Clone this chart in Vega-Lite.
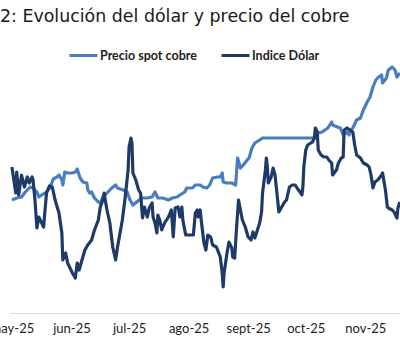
{
"$schema":"https://vega.github.io/schema/vega-lite/v6.json",
"width":390,"height":248,"autosize":"none","padding":{"left":10,"top":65,"right":0,"bottom":38},
"background":"white",
"title":{"text":"2: Evolución del dólar y precio del cobre","anchor":"start","frame":"group","font":"DejaVu Sans","fontSize":17.4,"fontWeight":"normal","color":"#1a1a1a","dx":-10,"dy":-15,"offset":0},
"data":{"values":[
{"serie":"Indice Dólar","fecha":"2025-05-01T00:00","valor":99.68},
{"serie":"Indice Dólar","fecha":"2025-05-03T00:00","valor":98.90},
{"serie":"Indice Dólar","fecha":"2025-05-03T12:00","valor":99.53},
{"serie":"Indice Dólar","fecha":"2025-05-04T12:00","valor":98.84},
{"serie":"Indice Dólar","fecha":"2025-05-06T00:00","valor":99.44},
{"serie":"Indice Dólar","fecha":"2025-05-07T12:00","valor":99.08},
{"serie":"Indice Dólar","fecha":"2025-05-09T00:00","valor":99.38},
{"serie":"Indice Dólar","fecha":"2025-05-10T00:00","valor":99.20},
{"serie":"Indice Dólar","fecha":"2025-05-11T12:00","valor":99.38},
{"serie":"Indice Dólar","fecha":"2025-05-12T00:00","valor":99.29},
{"serie":"Indice Dólar","fecha":"2025-05-13T00:00","valor":98.69},
{"serie":"Indice Dólar","fecha":"2025-05-14T00:00","valor":97.85},
{"serie":"Indice Dólar","fecha":"2025-05-15T00:00","valor":98.18},
{"serie":"Indice Dólar","fecha":"2025-05-16T12:00","valor":98.00},
{"serie":"Indice Dólar","fecha":"2025-05-17T12:00","valor":97.88},
{"serie":"Indice Dólar","fecha":"2025-05-19T00:00","valor":98.90},
{"serie":"Indice Dólar","fecha":"2025-05-20T12:00","valor":99.11},
{"serie":"Indice Dólar","fecha":"2025-05-22T00:00","valor":99.08},
{"serie":"Indice Dólar","fecha":"2025-05-23T12:00","valor":98.69},
{"serie":"Indice Dólar","fecha":"2025-05-25T12:00","valor":98.30},
{"serie":"Indice Dólar","fecha":"2025-05-27T00:00","valor":97.70},
{"serie":"Indice Dólar","fecha":"2025-05-27T12:00","valor":96.89},
{"serie":"Indice Dólar","fecha":"2025-05-29T00:00","valor":97.10},
{"serie":"Indice Dólar","fecha":"2025-05-30T00:00","valor":96.80},
{"serie":"Indice Dólar","fecha":"2025-06-01T12:00","valor":96.50},
{"serie":"Indice Dólar","fecha":"2025-06-03T00:00","valor":96.35},
{"serie":"Indice Dólar","fecha":"2025-06-04T00:00","valor":96.80},
{"serie":"Indice Dólar","fecha":"2025-06-05T00:00","valor":96.59},
{"serie":"Indice Dólar","fecha":"2025-06-06T12:00","valor":96.89},
{"serie":"Indice Dólar","fecha":"2025-06-08T00:00","valor":97.19},
{"serie":"Indice Dólar","fecha":"2025-06-09T12:00","valor":97.34},
{"serie":"Indice Dólar","fecha":"2025-06-11T12:00","valor":97.49},
{"serie":"Indice Dólar","fecha":"2025-06-13T00:00","valor":97.79},
{"serie":"Indice Dólar","fecha":"2025-06-15T00:00","valor":98.09},
{"serie":"Indice Dólar","fecha":"2025-06-16T00:00","valor":98.48},
{"serie":"Indice Dólar","fecha":"2025-06-17T00:00","valor":98.63},
{"serie":"Indice Dólar","fecha":"2025-06-18T00:00","valor":98.90},
{"serie":"Indice Dólar","fecha":"2025-06-19T12:00","valor":98.39},
{"serie":"Indice Dólar","fecha":"2025-06-21T00:00","valor":98.00},
{"serie":"Indice Dólar","fecha":"2025-06-22T12:00","valor":97.28},
{"serie":"Indice Dólar","fecha":"2025-06-24T00:00","valor":96.89},
{"serie":"Indice Dólar","fecha":"2025-06-25T00:00","valor":97.28},
{"serie":"Indice Dólar","fecha":"2025-06-27T12:00","valor":98.09},
{"serie":"Indice Dólar","fecha":"2025-06-29T00:00","valor":98.78},
{"serie":"Indice Dólar","fecha":"2025-06-30T12:00","valor":99.59},
{"serie":"Indice Dólar","fecha":"2025-07-01T00:00","valor":100.28},
{"serie":"Indice Dólar","fecha":"2025-07-02T00:00","valor":100.55},
{"serie":"Indice Dólar","fecha":"2025-07-02T12:00","valor":100.40},
{"serie":"Indice Dólar","fecha":"2025-07-03T00:00","valor":99.50},
{"serie":"Indice Dólar","fecha":"2025-07-04T12:00","valor":99.29},
{"serie":"Indice Dólar","fecha":"2025-07-06T00:00","valor":98.99},
{"serie":"Indice Dólar","fecha":"2025-07-07T00:00","valor":98.90},
{"serie":"Indice Dólar","fecha":"2025-07-08T00:00","valor":98.15},
{"serie":"Indice Dólar","fecha":"2025-07-09T00:00","valor":98.48},
{"serie":"Indice Dólar","fecha":"2025-07-10T12:00","valor":98.18},
{"serie":"Indice Dólar","fecha":"2025-07-11T12:00","valor":98.45},
{"serie":"Indice Dólar","fecha":"2025-07-13T00:00","valor":98.60},
{"serie":"Indice Dólar","fecha":"2025-07-13T12:00","valor":98.18},
{"serie":"Indice Dólar","fecha":"2025-07-14T12:00","valor":98.00},
{"serie":"Indice Dólar","fecha":"2025-07-15T12:00","valor":97.70},
{"serie":"Indice Dólar","fecha":"2025-07-16T00:00","valor":98.24},
{"serie":"Indice Dólar","fecha":"2025-07-17T00:00","valor":98.09},
{"serie":"Indice Dólar","fecha":"2025-07-18T00:00","valor":97.79},
{"serie":"Indice Dólar","fecha":"2025-07-19T12:00","valor":98.00},
{"serie":"Indice Dólar","fecha":"2025-07-21T12:00","valor":98.18},
{"serie":"Indice Dólar","fecha":"2025-07-23T00:00","valor":98.39},
{"serie":"Indice Dólar","fecha":"2025-07-24T00:00","valor":97.58},
{"serie":"Indice Dólar","fecha":"2025-07-25T00:00","valor":98.45},
{"serie":"Indice Dólar","fecha":"2025-07-26T12:00","valor":98.48},
{"serie":"Indice Dólar","fecha":"2025-07-27T12:00","valor":98.18},
{"serie":"Indice Dólar","fecha":"2025-07-28T12:00","valor":98.48},
{"serie":"Indice Dólar","fecha":"2025-07-29T00:00","valor":98.09},
{"serie":"Indice Dólar","fecha":"2025-07-30T12:00","valor":97.64},
{"serie":"Indice Dólar","fecha":"2025-08-01T00:00","valor":97.64},
{"serie":"Indice Dólar","fecha":"2025-08-03T12:00","valor":97.64},
{"serie":"Indice Dólar","fecha":"2025-08-04T12:00","valor":98.30},
{"serie":"Indice Dólar","fecha":"2025-08-05T12:00","valor":98.39},
{"serie":"Indice Dólar","fecha":"2025-08-06T00:00","valor":98.18},
{"serie":"Indice Dólar","fecha":"2025-08-07T00:00","valor":98.39},
{"serie":"Indice Dólar","fecha":"2025-08-08T00:00","valor":97.88},
{"serie":"Indice Dólar","fecha":"2025-08-09T00:00","valor":97.40},
{"serie":"Indice Dólar","fecha":"2025-08-10T00:00","valor":97.19},
{"serie":"Indice Dólar","fecha":"2025-08-11T00:00","valor":97.64},
{"serie":"Indice Dólar","fecha":"2025-08-12T12:00","valor":97.58},
{"serie":"Indice Dólar","fecha":"2025-08-13T12:00","valor":97.34},
{"serie":"Indice Dólar","fecha":"2025-08-15T12:00","valor":97.28},
{"serie":"Indice Dólar","fecha":"2025-08-16T12:00","valor":97.13},
{"serie":"Indice Dólar","fecha":"2025-08-17T12:00","valor":96.98},
{"serie":"Indice Dólar","fecha":"2025-08-18T12:00","valor":96.50},
{"serie":"Indice Dólar","fecha":"2025-08-19T00:00","valor":96.08},
{"serie":"Indice Dólar","fecha":"2025-08-19T12:00","valor":96.50},
{"serie":"Indice Dólar","fecha":"2025-08-21T00:00","valor":97.10},
{"serie":"Indice Dólar","fecha":"2025-08-22T00:00","valor":97.43},
{"serie":"Indice Dólar","fecha":"2025-08-23T12:00","valor":97.25},
{"serie":"Indice Dólar","fecha":"2025-08-24T00:00","valor":96.98},
{"serie":"Indice Dólar","fecha":"2025-08-25T00:00","valor":96.95},
{"serie":"Indice Dólar","fecha":"2025-08-26T00:00","valor":97.88},
{"serie":"Indice Dólar","fecha":"2025-08-27T00:00","valor":98.69},
{"serie":"Indice Dólar","fecha":"2025-08-29T00:00","valor":98.09},
{"serie":"Indice Dólar","fecha":"2025-08-30T12:00","valor":97.88},
{"serie":"Indice Dólar","fecha":"2025-09-01T00:00","valor":97.58},
{"serie":"Indice Dólar","fecha":"2025-09-02T12:00","valor":97.49},
{"serie":"Indice Dólar","fecha":"2025-09-03T12:00","valor":97.73},
{"serie":"Indice Dólar","fecha":"2025-09-04T12:00","valor":97.55},
{"serie":"Indice Dólar","fecha":"2025-09-05T12:00","valor":97.73},
{"serie":"Indice Dólar","fecha":"2025-09-07T00:00","valor":98.00},
{"serie":"Indice Dólar","fecha":"2025-09-08T00:00","valor":98.33},
{"serie":"Indice Dólar","fecha":"2025-09-08T12:00","valor":98.90},
{"serie":"Indice Dólar","fecha":"2025-09-10T00:00","valor":99.59},
{"serie":"Indice Dólar","fecha":"2025-09-10T12:00","valor":99.95},
{"serie":"Indice Dólar","fecha":"2025-09-11T00:00","valor":99.68},
{"serie":"Indice Dólar","fecha":"2025-09-11T12:00","valor":99.20},
{"serie":"Indice Dólar","fecha":"2025-09-13T00:00","valor":99.38},
{"serie":"Indice Dólar","fecha":"2025-09-14T00:00","valor":99.65},
{"serie":"Indice Dólar","fecha":"2025-09-15T00:00","valor":99.44},
{"serie":"Indice Dólar","fecha":"2025-09-16T00:00","valor":98.90},
{"serie":"Indice Dólar","fecha":"2025-09-17T00:00","valor":98.33},
{"serie":"Indice Dólar","fecha":"2025-09-18T12:00","valor":98.48},
{"serie":"Indice Dólar","fecha":"2025-09-20T00:00","valor":98.63},
{"serie":"Indice Dólar","fecha":"2025-09-21T00:00","valor":98.69},
{"serie":"Indice Dólar","fecha":"2025-09-22T12:00","valor":99.08},
{"serie":"Indice Dólar","fecha":"2025-09-24T00:00","valor":99.14},
{"serie":"Indice Dólar","fecha":"2025-09-25T12:00","valor":99.14},
{"serie":"Indice Dólar","fecha":"2025-09-26T12:00","valor":99.05},
{"serie":"Indice Dólar","fecha":"2025-09-28T00:00","valor":98.93},
{"serie":"Indice Dólar","fecha":"2025-09-29T00:00","valor":98.84},
{"serie":"Indice Dólar","fecha":"2025-09-29T12:00","valor":99.08},
{"serie":"Indice Dólar","fecha":"2025-09-30T00:00","valor":99.68},
{"serie":"Indice Dólar","fecha":"2025-10-01T00:00","valor":100.19},
{"serie":"Indice Dólar","fecha":"2025-10-02T00:00","valor":100.34},
{"serie":"Indice Dólar","fecha":"2025-10-04T12:00","valor":100.43},
{"serie":"Indice Dólar","fecha":"2025-10-05T12:00","valor":100.55},
{"serie":"Indice Dólar","fecha":"2025-10-06T00:00","valor":100.85},
{"serie":"Indice Dólar","fecha":"2025-10-07T00:00","valor":100.73},
{"serie":"Indice Dólar","fecha":"2025-10-07T12:00","valor":100.19},
{"serie":"Indice Dólar","fecha":"2025-10-09T00:00","valor":100.04},
{"serie":"Indice Dólar","fecha":"2025-10-10T12:00","valor":99.98},
{"serie":"Indice Dólar","fecha":"2025-10-12T00:00","valor":99.98},
{"serie":"Indice Dólar","fecha":"2025-10-13T00:00","valor":99.89},
{"serie":"Indice Dólar","fecha":"2025-10-14T12:00","valor":99.80},
{"serie":"Indice Dólar","fecha":"2025-10-15T00:00","valor":99.44},
{"serie":"Indice Dólar","fecha":"2025-10-17T00:00","valor":99.59},
{"serie":"Indice Dólar","fecha":"2025-10-18T00:00","valor":99.80},
{"serie":"Indice Dólar","fecha":"2025-10-19T12:00","valor":99.95},
{"serie":"Indice Dólar","fecha":"2025-10-20T12:00","valor":99.98},
{"serie":"Indice Dólar","fecha":"2025-10-21T00:00","valor":100.79},
{"serie":"Indice Dólar","fecha":"2025-10-22T12:00","valor":100.85},
{"serie":"Indice Dólar","fecha":"2025-10-24T00:00","valor":100.79},
{"serie":"Indice Dólar","fecha":"2025-10-25T12:00","valor":100.73},
{"serie":"Indice Dólar","fecha":"2025-10-26T12:00","valor":100.34},
{"serie":"Indice Dólar","fecha":"2025-10-27T12:00","valor":100.04},
{"serie":"Indice Dólar","fecha":"2025-10-29T12:00","valor":99.95},
{"serie":"Indice Dólar","fecha":"2025-10-31T00:00","valor":99.80},
{"serie":"Indice Dólar","fecha":"2025-11-02T00:00","valor":99.74},
{"serie":"Indice Dólar","fecha":"2025-11-03T00:00","valor":99.68},
{"serie":"Indice Dólar","fecha":"2025-11-04T00:00","valor":99.44},
{"serie":"Indice Dólar","fecha":"2025-11-05T00:00","valor":99.05},
{"serie":"Indice Dólar","fecha":"2025-11-06T00:00","valor":99.23},
{"serie":"Indice Dólar","fecha":"2025-11-07T12:00","valor":99.29},
{"serie":"Indice Dólar","fecha":"2025-11-09T12:00","valor":99.44},
{"serie":"Indice Dólar","fecha":"2025-11-10T00:00","valor":99.50},
{"serie":"Indice Dólar","fecha":"2025-11-11T12:00","valor":98.99},
{"serie":"Indice Dólar","fecha":"2025-11-12T12:00","valor":98.48},
{"serie":"Indice Dólar","fecha":"2025-11-13T00:00","valor":98.45},
{"serie":"Indice Dólar","fecha":"2025-11-15T00:00","valor":98.39},
{"serie":"Indice Dólar","fecha":"2025-11-16T00:00","valor":98.33},
{"serie":"Indice Dólar","fecha":"2025-11-17T12:00","valor":98.15},
{"serie":"Indice Dólar","fecha":"2025-11-18T00:00","valor":98.45},
{"serie":"Indice Dólar","fecha":"2025-11-19T00:00","valor":98.63},
{"serie":"Precio spot cobre","fecha":"2025-05-01T00:00","valor":9215},
{"serie":"Precio spot cobre","fecha":"2025-05-03T12:00","valor":9245},
{"serie":"Precio spot cobre","fecha":"2025-05-06T00:00","valor":9260},
{"serie":"Precio spot cobre","fecha":"2025-05-08T00:00","valor":9335},
{"serie":"Precio spot cobre","fecha":"2025-05-10T12:00","valor":9410},
{"serie":"Precio spot cobre","fecha":"2025-05-12T00:00","valor":9395},
{"serie":"Precio spot cobre","fecha":"2025-05-14T00:00","valor":9335},
{"serie":"Precio spot cobre","fecha":"2025-05-15T00:00","valor":9260},
{"serie":"Precio spot cobre","fecha":"2025-05-16T12:00","valor":9290},
{"serie":"Precio spot cobre","fecha":"2025-05-19T00:00","valor":9335},
{"serie":"Precio spot cobre","fecha":"2025-05-21T00:00","valor":9410},
{"serie":"Precio spot cobre","fecha":"2025-05-22T12:00","valor":9530},
{"serie":"Precio spot cobre","fecha":"2025-05-24T12:00","valor":9560},
{"serie":"Precio spot cobre","fecha":"2025-05-25T12:00","valor":9590},
{"serie":"Precio spot cobre","fecha":"2025-05-27T00:00","valor":9515},
{"serie":"Precio spot cobre","fecha":"2025-05-27T12:00","valor":9440},
{"serie":"Precio spot cobre","fecha":"2025-05-28T12:00","valor":9635},
{"serie":"Precio spot cobre","fecha":"2025-05-30T00:00","valor":9620},
{"serie":"Precio spot cobre","fecha":"2025-06-01T12:00","valor":9620},
{"serie":"Precio spot cobre","fecha":"2025-06-03T00:00","valor":9635},
{"serie":"Precio spot cobre","fecha":"2025-06-04T00:00","valor":9680},
{"serie":"Precio spot cobre","fecha":"2025-06-05T12:00","valor":9545},
{"serie":"Precio spot cobre","fecha":"2025-06-07T00:00","valor":9485},
{"serie":"Precio spot cobre","fecha":"2025-06-09T00:00","valor":9470},
{"serie":"Precio spot cobre","fecha":"2025-06-09T12:00","valor":9365},
{"serie":"Precio spot cobre","fecha":"2025-06-10T12:00","valor":9320},
{"serie":"Precio spot cobre","fecha":"2025-06-11T12:00","valor":9335},
{"serie":"Precio spot cobre","fecha":"2025-06-13T00:00","valor":9245},
{"serie":"Precio spot cobre","fecha":"2025-06-15T00:00","valor":9185},
{"serie":"Precio spot cobre","fecha":"2025-06-16T00:00","valor":9170},
{"serie":"Precio spot cobre","fecha":"2025-06-17T12:00","valor":9260},
{"serie":"Precio spot cobre","fecha":"2025-06-19T12:00","valor":9320},
{"serie":"Precio spot cobre","fecha":"2025-06-22T00:00","valor":9395},
{"serie":"Precio spot cobre","fecha":"2025-06-24T00:00","valor":9440},
{"serie":"Precio spot cobre","fecha":"2025-06-25T00:00","valor":9395},
{"serie":"Precio spot cobre","fecha":"2025-06-28T00:00","valor":9365},
{"serie":"Precio spot cobre","fecha":"2025-06-30T00:00","valor":9335},
{"serie":"Precio spot cobre","fecha":"2025-07-01T12:00","valor":9215},
{"serie":"Precio spot cobre","fecha":"2025-07-03T00:00","valor":9140},
{"serie":"Precio spot cobre","fecha":"2025-07-05T00:00","valor":9185},
{"serie":"Precio spot cobre","fecha":"2025-07-07T12:00","valor":9245},
{"serie":"Precio spot cobre","fecha":"2025-07-10T12:00","valor":9245},
{"serie":"Precio spot cobre","fecha":"2025-07-13T00:00","valor":9260},
{"serie":"Precio spot cobre","fecha":"2025-07-14T12:00","valor":9335},
{"serie":"Precio spot cobre","fecha":"2025-07-16T00:00","valor":9245},
{"serie":"Precio spot cobre","fecha":"2025-07-18T12:00","valor":9245},
{"serie":"Precio spot cobre","fecha":"2025-07-21T12:00","valor":9215},
{"serie":"Precio spot cobre","fecha":"2025-07-23T12:00","valor":9245},
{"serie":"Precio spot cobre","fecha":"2025-07-26T00:00","valor":9260},
{"serie":"Precio spot cobre","fecha":"2025-07-27T12:00","valor":9290},
{"serie":"Precio spot cobre","fecha":"2025-07-30T00:00","valor":9335},
{"serie":"Precio spot cobre","fecha":"2025-07-31T00:00","valor":9395},
{"serie":"Precio spot cobre","fecha":"2025-08-03T00:00","valor":9395},
{"serie":"Precio spot cobre","fecha":"2025-08-04T12:00","valor":9440},
{"serie":"Precio spot cobre","fecha":"2025-08-07T00:00","valor":9440},
{"serie":"Precio spot cobre","fecha":"2025-08-08T12:00","valor":9410},
{"serie":"Precio spot cobre","fecha":"2025-08-10T12:00","valor":9395},
{"serie":"Precio spot cobre","fecha":"2025-08-12T00:00","valor":9440},
{"serie":"Precio spot cobre","fecha":"2025-08-13T12:00","valor":9545},
{"serie":"Precio spot cobre","fecha":"2025-08-16T00:00","valor":9560},
{"serie":"Precio spot cobre","fecha":"2025-08-17T12:00","valor":9560},
{"serie":"Precio spot cobre","fecha":"2025-08-18T12:00","valor":9620},
{"serie":"Precio spot cobre","fecha":"2025-08-19T00:00","valor":9485},
{"serie":"Precio spot cobre","fecha":"2025-08-21T00:00","valor":9470},
{"serie":"Precio spot cobre","fecha":"2025-08-23T12:00","valor":9470},
{"serie":"Precio spot cobre","fecha":"2025-08-25T12:00","valor":9440},
{"serie":"Precio spot cobre","fecha":"2025-08-26T12:00","valor":9845},
{"serie":"Precio spot cobre","fecha":"2025-08-28T00:00","valor":9695},
{"serie":"Precio spot cobre","fecha":"2025-08-29T12:00","valor":9740},
{"serie":"Precio spot cobre","fecha":"2025-08-31T12:00","valor":9815},
{"serie":"Precio spot cobre","fecha":"2025-09-01T12:00","valor":9845},
{"serie":"Precio spot cobre","fecha":"2025-09-03T00:00","valor":9995},
{"serie":"Precio spot cobre","fecha":"2025-09-04T12:00","valor":10070},
{"serie":"Precio spot cobre","fecha":"2025-09-07T00:00","valor":10115},
{"serie":"Precio spot cobre","fecha":"2025-09-08T12:00","valor":10145},
{"serie":"Precio spot cobre","fecha":"2025-10-06T12:00","valor":10145},
{"serie":"Precio spot cobre","fecha":"2025-10-07T12:00","valor":10220},
{"serie":"Precio spot cobre","fecha":"2025-10-09T12:00","valor":10235},
{"serie":"Precio spot cobre","fecha":"2025-10-11T00:00","valor":10265},
{"serie":"Precio spot cobre","fecha":"2025-10-12T12:00","valor":10295},
{"serie":"Precio spot cobre","fecha":"2025-10-14T12:00","valor":10385},
{"serie":"Precio spot cobre","fecha":"2025-10-15T00:00","valor":10340},
{"serie":"Precio spot cobre","fecha":"2025-10-17T12:00","valor":10310},
{"serie":"Precio spot cobre","fecha":"2025-10-19T00:00","valor":10295},
{"serie":"Precio spot cobre","fecha":"2025-10-20T12:00","valor":10190},
{"serie":"Precio spot cobre","fecha":"2025-10-22T12:00","valor":10235},
{"serie":"Precio spot cobre","fecha":"2025-10-23T12:00","valor":10190},
{"serie":"Precio spot cobre","fecha":"2025-10-24T12:00","valor":10265},
{"serie":"Precio spot cobre","fecha":"2025-10-25T12:00","valor":10295},
{"serie":"Precio spot cobre","fecha":"2025-10-27T12:00","valor":10415},
{"serie":"Precio spot cobre","fecha":"2025-10-29T12:00","valor":10445},
{"serie":"Precio spot cobre","fecha":"2025-10-31T00:00","valor":10565},
{"serie":"Precio spot cobre","fecha":"2025-11-02T00:00","valor":10685},
{"serie":"Precio spot cobre","fecha":"2025-11-03T12:00","valor":10760},
{"serie":"Precio spot cobre","fecha":"2025-11-05T00:00","valor":10910},
{"serie":"Precio spot cobre","fecha":"2025-11-06T12:00","valor":11015},
{"serie":"Precio spot cobre","fecha":"2025-11-08T00:00","valor":11060},
{"serie":"Precio spot cobre","fecha":"2025-11-09T12:00","valor":11090},
{"serie":"Precio spot cobre","fecha":"2025-11-10T00:00","valor":10970},
{"serie":"Precio spot cobre","fecha":"2025-11-12T00:00","valor":11045},
{"serie":"Precio spot cobre","fecha":"2025-11-13T00:00","valor":11165},
{"serie":"Precio spot cobre","fecha":"2025-11-15T00:00","valor":11210},
{"serie":"Precio spot cobre","fecha":"2025-11-16T12:00","valor":11165},
{"serie":"Precio spot cobre","fecha":"2025-11-17T12:00","valor":11060},
{"serie":"Precio spot cobre","fecha":"2025-11-19T00:00","valor":11120}
]},
"encoding":{
"x":{"field":"fecha","type":"temporal","scale":{"domain":[{"year":2025,"month":4,"date":30},{"year":2025,"month":11,"date":19,"hours":2}]},
"axis":{"title":null,"tickCount":{"interval":"month","step":1},"ticks":false,"tickSize":0,"grid":false,"domainColor":"#d9d9d9","domainWidth":1,"labelFont":"Lato","labelFontSize":13,"labelColor":"#222222","labelPadding":9,"labelFlush":false,"labelOverlap":false,"labelBound":false,
"labelExpr":"['ene','feb','mar','abr','may','jun','jul','ago','sept','oct','nov','dic'][month(datum.value)] + '-' + timeFormat(datum.value, '%y')"}},
"color":{"field":"serie","type":"nominal","scale":{"domain":["Precio spot cobre","Indice Dólar"],"range":["#4a7cc0","#1f3a68"]},
"legend":{"title":null,"orient":"none","legendX":58,"legendY":-25,"direction":"horizontal","symbolType":"stroke","symbolSize":784,"symbolStrokeWidth":3,"labelFont":"Lato","labelFontSize":12.5,"labelFontWeight":"bold","labelColor":"#222222","labelOffset":1,"columnPadding":18}}
},
"layer":[
{"transform":[{"filter":"datum.serie === 'Precio spot cobre'"}],"mark":{"type":"line","strokeWidth":3.2,"strokeJoin":"round"},
"encoding":{"y":{"field":"valor","type":"quantitative","scale":{"domain":[7520,11240],"nice":false,"zero":false},"axis":null}}},
{"transform":[{"filter":"datum.serie === 'Indice Dólar'"}],"mark":{"type":"line","strokeWidth":3.2,"strokeJoin":"round"},
"encoding":{"y":{"field":"valor","type":"quantitative","scale":{"domain":[95.3,102.74],"nice":false,"zero":false},"axis":null}}}
],
"resolve":{"scale":{"y":"independent"}},
"config":{"view":{"stroke":null}}
}
